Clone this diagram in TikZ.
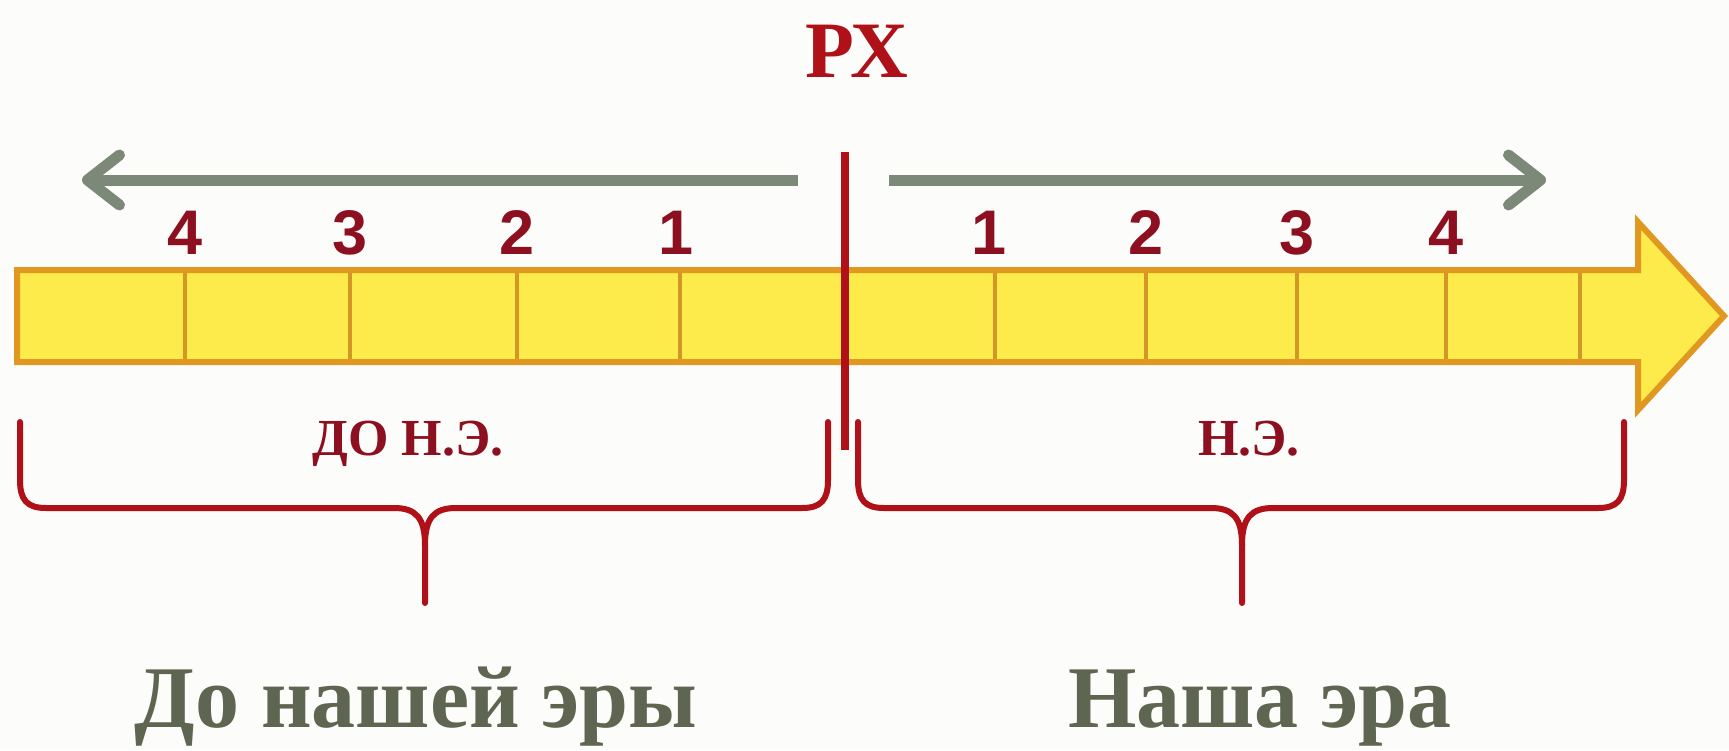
\documentclass[tikz,border=0pt]{standalone}
\usepackage{fontspec}
\setmainfont{Liberation Serif}
\newfontfamily\digitfont{Liberation Sans}
\usetikzlibrary{positioning}
\usetikzlibrary{arrows.meta}

\definecolor{paper}{RGB}{252,252,250}
\definecolor{baryellow}{RGB}{253,235,75}
\definecolor{barorange}{RGB}{224,152,32}
\definecolor{cellline}{RGB}{212,150,36}
\definecolor{erared}{RGB}{176,16,24}
\definecolor{numred}{RGB}{140,16,32}
\definecolor{pointgray}{RGB}{125,137,120}
\definecolor{titlegray}{RGB}{94,102,82}

\begin{document}
\begin{tikzpicture}
[
	x								= 1pt,
	y								= -1pt,
	node distance					= 15pt,
	%
	timebar/.style					=
	{
		fill						= baryellow,
		draw						= barorange,
		line width					= 6pt,
		line join					= miter
	},
	cell/.style						= {draw = cellline, line width = 3.5pt},
	zeroline/.style					= {draw = erared, line width = 8pt},
	pointer/.style					=
	{
		draw						= pointgray,
		line width					= 11pt,
		-{Straight Barb[length = 32pt, width = 50pt, line width = 11pt, round]}
	},
	erabrace/.style					= {draw = erared, line width = 6pt, line cap = round},
	%
	year/.style						=
	{
		inner sep					= 0pt,
		text						= numred,
		font						= \digitfont\bfseries\fontsize{63}{63}\selectfont
	},
	rxlabel/.style					=
	{
		inner sep					= 0pt,
		anchor						= base,
		text						= erared,
		font						= \bfseries\fontsize{80}{80}\selectfont
	},
	shortlabel/.style				=
	{
		inner sep					= 0pt,
		anchor						= base,
		text						= numred,
		font						= \bfseries\fontsize{52}{52}\selectfont
	},
	eralabel/.style					=
	{
		inner sep					= 0pt,
		anchor						= base,
		text						= titlegray,
		font						= \bfseries\fontsize{88}{88}\selectfont
	},
]
	% page
	\fill [paper] (0,0) rectangle (1729,750);
	\useasboundingbox (0,0) rectangle (1729,750);

	% the yellow time bar
	\path [timebar] (17,270) -- (1638,270) -- (1638,222) -- (1724,316)
		-- (1638,410) -- (1638,362) -- (17,362) -- cycle;

	\foreach \x in {185,350,517,680,995,1146,1297,1446,1580}
		\draw [cell] (\x,273) -- (\x,359);

	% years above the bar
	\foreach \x/\n in {185/4,350/3,517/2,676/1,989/1,1146/2,1297/3,1446/4}
	{
		\coordinate (tick-\x) at (\x,270);
		\node (year-\x) [year, above = of tick-\x] {\n};
	}

	% birth of Christ
	\coordinate (rxtop) at (845,152);
	\coordinate (rxbottom) at (845,450);
	\draw [zeroline] (rxtop) -- (rxbottom);
	\node (rx) [rxlabel] at (857,77) {РХ};

	% direction of counting
	\coordinate (bcstart) at (798,180);
	\coordinate (bcend) at (82,180);
	\coordinate (adstart) at (889,180);
	\coordinate (adend) at (1546,180);
	\draw [pointer] (bcstart) -- (bcend);
	\draw [pointer] (adstart) -- (adend);

	% braces
	\draw [erabrace] (20,422) -- (20,480) .. controls (20,500) and (27,508) .. (46,508) -- (394,508)
		.. controls (416,508) and (425,518) .. (425,545) -- (425,603);
	\draw [erabrace] (828,422) -- (828,480) .. controls (828,500) and (821,508) .. (802,508) -- (456,508)
		.. controls (434,508) and (425,518) .. (425,545);
	\draw [erabrace] (858,422) -- (858,480) .. controls (858,500) and (865,508) .. (884,508) -- (1211,508)
		.. controls (1233,508) and (1242,518) .. (1242,545) -- (1242,603);
	\draw [erabrace] (1624,422) -- (1624,480) .. controls (1624,500) and (1617,508) .. (1598,508) -- (1273,508)
		.. controls (1251,508) and (1242,518) .. (1242,545);

	\node (bcshort) [shortlabel] at (408,455) {ДО Н.Э.};
	\node (adshort) [shortlabel] at (1249,455) {Н.Э.};

	\node (bclong) [eralabel] at (416,727) {До нашей эры};
	\node (adlong) [eralabel] at (1260,727) {Наша эра};

\end{tikzpicture}
\end{document}
